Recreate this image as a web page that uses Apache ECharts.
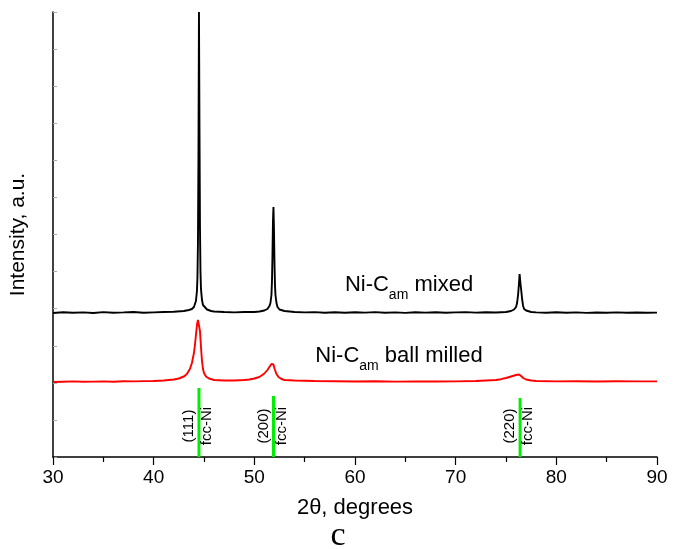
<!DOCTYPE html>
<html>
<head>
<meta charset="utf-8">
<script src="https://cdn.jsdelivr.net/npm/echarts@6/dist/echarts.min.js"></script>
<style>
  html, body { margin: 0; padding: 0; background: #fff; }
  #chart { width: 680px; height: 549px; }
</style>
</head>
<body>
<div id="chart"></div>
<script>
// Ni-C_am mixed (black)
var mixedX = [30, 31, 32, 33, 34, 35, 36, 37, 38, 39, 40, 41, 42, 43, 43.5, 43.8, 44.0, 44.1, 44.2, 44.3, 44.35, 44.4, 44.45, 44.5,
  44.55, 44.6, 44.65, 44.7, 44.8, 44.9, 45.0, 45.3, 45.7, 46, 47, 48, 49, 50, 50.5, 51.0, 51.3, 51.5, 51.6, 51.7, 51.75, 51.8,
  51.85, 51.9, 51.95, 52.0, 52.05, 52.1, 52.2, 52.3, 52.5, 53, 54, 55, 56, 57, 58, 59, 60, 61, 62, 63, 64, 65, 66, 67, 68, 69,
  70, 71, 72, 73, 74, 75, 75.5, 75.8, 76.0, 76.1, 76.2, 76.3, 76.35, 76.4, 76.45, 76.5, 76.55, 76.6, 76.7, 76.8, 77.0, 77.5,
  78, 79, 80, 81, 82, 83, 84, 85, 86, 87, 88, 89, 90];
var mixedY = [144, 144.8, 144.2, 144.6, 144, 144.9, 144.3, 144.6, 145, 144.2, 144.6, 145, 145.2, 146, 147, 148, 150, 152, 156, 166, 180, 215, 300, 445,
  330, 230, 185, 168, 157, 152, 150, 147.5, 146, 145.5, 145, 144.6, 145, 145, 145.5, 146.5, 148, 151, 154, 162, 175, 200,
  235, 250, 228, 195, 172, 162, 154, 150, 147.5, 146, 145, 144.6, 144.9, 144.3, 144.7, 144.2, 144.8, 144.4, 144.9, 144.3, 144.6, 144.1, 144.7, 144.4, 144.8, 144.2,
  144.6, 144.9, 144.4, 144.7, 144.5, 145, 146, 147.5, 150, 154, 162, 175, 183, 185, 172, 168, 166, 158, 151, 148, 146.5, 145,
  144.6, 144.2, 144.7, 144.3, 144.6, 144.1, 144.5, 144.2, 144.6, 144.3, 144.5, 144.2, 144.4];

// Ni-C_am ball milled (red)
var milledX = [30, 31, 32, 33, 34, 35, 36, 37, 38, 39, 40, 41, 42, 42.5, 43, 43.3, 43.6, 43.8, 44.0, 44.1, 44.2, 44.3, 44.4, 44.45,
  44.5, 44.6, 44.7, 44.8, 44.9, 45.0, 45.2, 45.5, 46, 47, 48, 49, 49.5, 50, 50.5, 51.0, 51.3, 51.5, 51.7, 51.8, 51.9, 52.0,
  52.2, 52.4, 52.7, 53, 54, 56, 58, 60, 62, 64, 66, 68, 70, 72, 73, 74, 74.5, 75, 75.5, 76, 76.3, 76.5, 76.7, 77, 77.5, 78,
  80, 82, 84, 86, 88, 90];
var milledY = [75, 75.3, 75.6, 75.2, 75.4, 75.6, 75.3, 75.7, 75.6, 75.9, 76, 76.5, 77.5, 78.5, 80.5, 83, 88, 94, 104, 112, 122, 132, 137, 138,
  136, 126, 110, 96, 88, 84, 80.5, 78.5, 77, 76.5, 76.5, 77, 77.5, 78.5, 80, 83.5, 87, 90, 93, 94, 92.5, 88.5,
  83, 80, 78, 77, 76.5, 76, 75.8, 75.5, 75.7, 75.4, 75.6, 75.5, 75.6, 76, 76.5, 77, 77.8, 79, 80.5, 82, 82.5, 81, 79, 77.5, 76.5, 76,
  75.6, 75.7, 75.5, 75.7, 75.6, 75.6];

// fcc-Ni reference lines
var refPos = [44.5, 51.9, 76.4];
var refTop = [69, 61, 59];
var refHkl = ['(111)', '(200)', '(220)'];

function pairs(xs, ys) {
  var out = [];
  for (var i = 0; i < xs.length; i++) out.push([xs[i], ys[i]]);
  return out;
}

var sans = 'Liberation Sans, Arial, sans-serif';

var chart = echarts.init(document.getElementById('chart'));
chart.setOption({
  animation: false,
  backgroundColor: '#fff',
  grid: { left: 53, right: 23, top: 12, bottom: 92 },
  xAxis: {
    type: 'value', min: 30, max: 90, interval: 10,
    name: '2\u03b8, degrees', nameLocation: 'middle', nameGap: 40,
    nameTextStyle: { fontSize: 22, color: '#000', fontFamily: sans },
    axisLine: { lineStyle: { color: '#000', width: 1.5 } },
    axisTick: { inside: false, length: 8, lineStyle: { color: '#000', width: 1.2 } },
    minorTick: { show: true, splitNumber: 2, length: 5, lineStyle: { color: '#000', width: 1.2 } },
    splitLine: { show: false },
    axisLabel: { fontSize: 19, color: '#000', fontFamily: sans, margin: 11 }
  },
  yAxis: {
    type: 'value', min: 0, max: 445, interval: 445 / 12,
    name: 'Intensity, a.u.', nameLocation: 'middle', nameGap: 24,
    nameTextStyle: { fontSize: 21, color: '#000', fontFamily: sans },
    axisLine: { lineStyle: { color: '#000', width: 1.5 } },
    axisTick: { inside: true, length: 4, lineStyle: { color: '#aaa', width: 1 } },
    splitLine: { show: false },
    axisLabel: { show: false }
  },
  series: [
    {
      type: 'line', data: pairs(mixedX, mixedY), symbol: 'none',
      lineStyle: { color: '#000', width: 1.9 }
    },
    {
      type: 'line', data: pairs(milledX, milledY), symbol: 'none',
      lineStyle: { color: '#ff0000', width: 1.9 }
    },
    {
      type: 'custom',
      data: refPos.map(function (x, i) { return [x, refTop[i]]; }),
      renderItem: function (params, api) {
        var base = api.coord([api.value(0), 0]);
        var top = api.coord([api.value(0), api.value(1)]);
        var ts = { fontSize: 15, fontFamily: sans, fill: '#000', align: 'center', verticalAlign: 'middle' };
        return {
          type: 'group',
          children: [
            { type: 'line', shape: { x1: base[0], y1: base[1], x2: top[0], y2: top[1] },
              style: { stroke: '#00ee00', lineWidth: 3 } },
            { type: 'text', x: base[0] - 10, y: base[1] - 31, rotation: Math.PI / 2,
              style: Object.assign({ text: refHkl[params.dataIndex] }, ts) },
            { type: 'text', x: base[0] + 8, y: base[1] - 31, rotation: Math.PI / 2,
              style: Object.assign({ text: 'fcc-Ni' }, ts) }
          ]
        };
      }
    }
  ],
  graphic: [
    {
      type: 'text', x: 409, y: 288,
      style: {
        text: '{a|Ni-C}{s|am}{a| mixed}', align: 'center', verticalAlign: 'middle',
        rich: {
          a: { fontSize: 22, fontFamily: sans, fill: '#000', padding: [0, 0, 7, 0], verticalAlign: 'bottom' },
          s: { fontSize: 14, fontFamily: sans, fill: '#000', verticalAlign: 'bottom' }
        }
      }
    },
    {
      type: 'text', x: 399, y: 359,
      style: {
        text: '{a|Ni-C}{s|am}{a| ball milled}', align: 'center', verticalAlign: 'middle',
        rich: {
          a: { fontSize: 22, fontFamily: sans, fill: '#000', padding: [0, 0, 7, 0], verticalAlign: 'bottom' },
          s: { fontSize: 14, fontFamily: sans, fill: '#000', verticalAlign: 'bottom' }
        }
      }
    },
    {
      type: 'text', x: 338, y: 536,
      style: { text: 'c', fontSize: 34, fontFamily: 'Liberation Serif, DejaVu Serif, serif', fill: '#000',
        align: 'center', verticalAlign: 'middle' }
    }
  ]
});
</script>
</body>
</html>
